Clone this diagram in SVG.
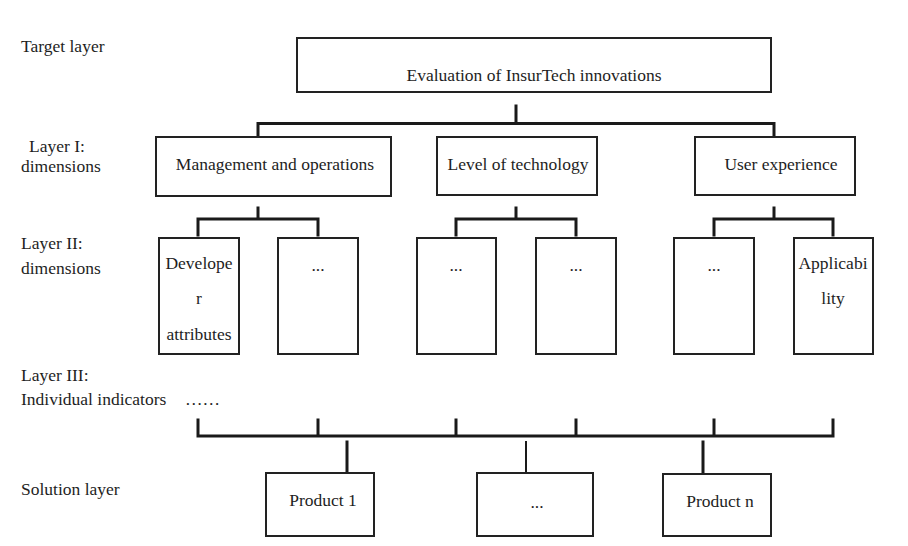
<svg xmlns="http://www.w3.org/2000/svg" width="908" height="546" viewBox="0 0 908 546">
<style>
text{font-family:'Liberation Serif','Tinos','Times New Roman','Noto Serif','DejaVu Serif',serif;font-size:17.5px;fill:#1e1e1e}
.c{text-anchor:middle}
.box{fill:#fff;stroke:#222;stroke-width:2}
.ln{stroke:#1a1a1a;stroke-width:3;fill:none;stroke-linecap:square}
.thin{stroke:#1a1a1a;stroke-width:2;fill:none}
</style>
<rect width="908" height="546" fill="#fff"/>
<g id="labels">
<text x="21" y="52">Target layer</text>
<text x="29" y="152">Layer I:</text>
<text x="21" y="172">dimensions</text>
<text x="21" y="249">Layer II:</text>
<text x="21" y="274">dimensions</text>
<text x="21" y="381">Layer III:</text>
<text x="21" y="405">Individual indicators</text>
<text x="185" y="405">……</text>
<text x="21" y="495">Solution layer</text>
</g>
<g id="connectors">
<path class="ln" d="M516 106V123.5M258 123.5H774M258 123.5V138M774 123.5V138"/>
<path class="ln" d="M258 208V219M198 219H318M198 219V235M318 219V235"/>
<path class="ln" d="M516 208V219M456 219H576M456 219V235M576 219V235"/>
<path class="ln" d="M774 208V219M714 219H833M714 219V235M833 219V235"/>
<path class="ln" d="M198 420V436M318 420V436M456 420V436M576 420V436M714 420V436M833 420V436M198 436H833"/>
<path class="ln" d="M347 442V473M703 442V473"/>
<path class="thin" d="M526 441V473"/>
</g>
<g id="target"><rect class="box" x="297" y="38" width="474" height="54"/><text class="c" x="534" y="81">Evaluation of InsurTech innovations</text></g>
<g id="mgmt"><rect class="box" x="156" y="137" width="235" height="59"/><text class="c" x="275" y="170">Management and operations</text></g>
<g id="tech"><rect class="box" x="437" y="137" width="160" height="58"/><text class="c" x="518" y="170">Level of technology</text></g>
<g id="ux"><rect class="box" x="695" y="137" width="160" height="58"/><text class="c" x="781" y="170">User experience</text></g>
<g id="dev"><rect class="box" x="159" y="238" width="80" height="116"/><text class="c" x="199" y="269">Develope</text><text class="c" x="199" y="304">r</text><text class="c" x="199" y="340">attributes</text></g>
<g id="d2"><rect class="box" x="278" y="238" width="80" height="116"/><text class="c" x="318" y="271">...</text></g>
<g id="d3"><rect class="box" x="417" y="238" width="79" height="116"/><text class="c" x="456" y="271">...</text></g>
<g id="d4"><rect class="box" x="536" y="238" width="80" height="116"/><text class="c" x="576" y="271">...</text></g>
<g id="d5"><rect class="box" x="674" y="238" width="80" height="116"/><text class="c" x="714" y="271">...</text></g>
<g id="app"><rect class="box" x="794" y="238" width="79" height="116"/><text class="c" x="833" y="269">Applicabi</text><text class="c" x="833" y="304">lity</text></g>
<g id="p1"><rect class="box" x="266" y="473" width="108" height="63"/><text class="c" x="323" y="506">Product 1</text></g>
<g id="pm"><rect class="box" x="477" y="473" width="116" height="63"/><text class="c" x="537" y="508">...</text></g>
<g id="pn"><rect class="box" x="663" y="474" width="108" height="62"/><text class="c" x="720" y="507">Product n</text></g>
</svg>
